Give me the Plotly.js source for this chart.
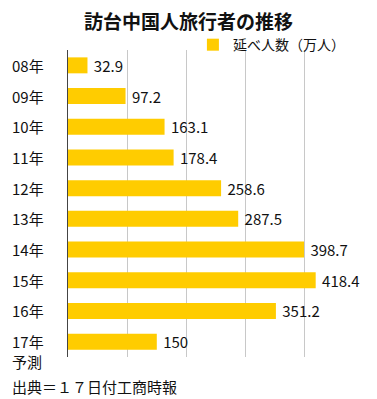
<!DOCTYPE html>
<html><head><meta charset="utf-8">
<script src="https://cdn.plot.ly/plotly-3.0.1.min.js"></script>
<style>html,body{margin:0;padding:0;background:#fff}#c{width:377px;height:399px}</style>
</head><body><div id="c"></div>
<script>
const categories = ["08年","09年","10年","11年","12年","13年","14年","15年","16年","17年"];
const categoryNotes = ["","","","","","","","","","予測"];
const visitors = [32.9, 97.2, 163.1, 178.4, 258.6, 287.5, 398.7, 418.4, 351.2, 150];
const valueLabels = ["32.9","97.2","163.1","178.4","258.6","287.5","398.7","418.4","351.2","150"];
const seriesName = "延べ人数（万人）";
const chartTitle = "訪台中国人旅行者の推移";
const sourceNote = "出典＝１７日付工商時報";

const FONT = '"Noto Sans CJK JP", "Noto Sans", sans-serif';

const annotations = categories.map((c, i) => ({
  xref: 'paper', yref: 'y', x: -0.196, y: c, xanchor: 'left', yanchor: 'middle',
  text: c, showarrow: false, font: {family: FONT, size: 15, color: '#111'}
}));
categories.forEach((c, i) => {
  if (categoryNotes[i]) annotations.push({
    xref: 'paper', yref: 'y', x: -0.196, y: c, xanchor: 'left', yanchor: 'top',
    yshift: -7, text: categoryNotes[i], showarrow: false,
    font: {family: FONT, size: 15, color: '#111'}
  });
});
annotations.push({
  xref: 'paper', yref: 'paper', x: -0.196, y: -0.055, xanchor: 'left', yanchor: 'top',
  text: sourceNote, showarrow: false, font: {family: FONT, size: 15, color: '#111'}
});

Plotly.newPlot('c', [{
  type: 'bar', orientation: 'h', y: categories, x: visitors, name: seriesName,
  text: valueLabels, texttemplate: '\u00a0%{text}', textposition: 'outside', cliponaxis: false, constraintext: 'none',
  textfont: {family: FONT, size: 15, color: '#111'},
  marker: {color: '#FFCC00'}, showlegend: true, hoverinfo: 'none'
}], {
  width: 377, height: 399,
  margin: {l: 68, r: 13, t: 50, b: 42},
  paper_bgcolor: '#fff', plot_bgcolor: '#fff',
  title: {text: chartTitle, font: {family: FONT, size: 19, color: '#111', weight: 'bold'}, x: 0.5, xanchor: 'center', y: 0.943, yanchor: 'middle'},
  bargap: 0.48,
  xaxis: {range: [0, 500], dtick: 100, showticklabels: false, showgrid: true, gridcolor: '#c8c8c8', gridwidth: 1, zeroline: false, fixedrange: true},
  yaxis: {autorange: 'reversed', showticklabels: false, showline: true, linecolor: '#444', linewidth: 1, ticks: '', fixedrange: true},
  legend: {orientation: 'h', x: 0.422, xanchor: 'left', y: 1.016, yanchor: 'middle', font: {family: FONT, size: 14, color: '#111'}, bgcolor: 'rgba(0,0,0,0)'},
  annotations: annotations,
  showlegend: true
}, {displayModeBar: false, staticPlot: true});
</script></body></html>
